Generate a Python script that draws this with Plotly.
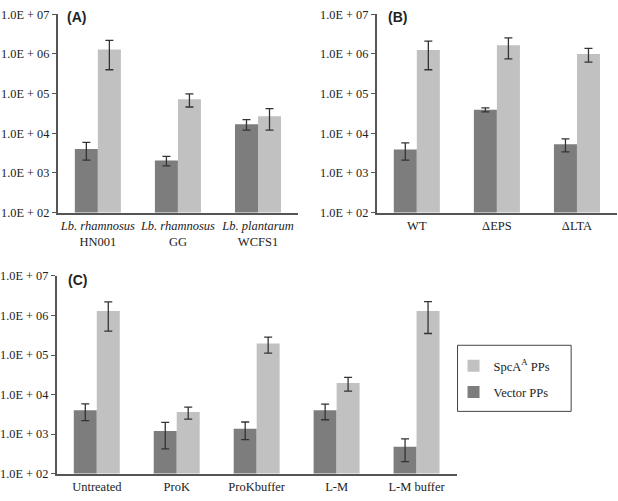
import plotly.graph_objects as go

# ---- data ----
cats_a = ["<i>Lb. rhamnosus</i><br>HN001", "<i>Lb. rhamnosus</i><br>GG", "<i>Lb. plantarum</i><br>WCFS1"]
vector_a = [4000, 2050, 17000]
vector_a_err = [1900, 550, 5000]
spca_a = [1300000, 72000, 27000]
spca_a_err = [900000, 26000, 15000]

cats_b = ["WT", "ΔEPS", "ΔLTA"]
vector_b = [3900, 39000, 5300]
vector_b_err = [1800, 4500, 1900]
spca_b = [1250000, 1650000, 1000000]
spca_b_err = [850000, 900000, 380000]

cats_c = ["Untreated", "ProK", "ProKbuffer", "L-M", "L-M buffer"]
vector_c = [4000, 1200, 1370, 4000, 480]
vector_c_err = [1800, 780, 650, 1700, 280]
spca_c = [1300000, 3600, 197000, 19700, 1300000]
spca_c_err = [900000, 1200, 85000, 7500, 950000]

tick_vals = [1e2, 1e3, 1e4, 1e5, 1e6, 1e7]
tick_text = ["1.0E + 02", "1.0E + 03", "1.0E + 04", "1.0E + 05", "1.0E + 06", "1.0E + 07"]

DARK = "#7d7d7d"
LIGHT = "#c1c1c1"
AXIS = "#555555"
ERR = "#333333"
SERIF = "Liberation Serif"

fig = go.Figure()

panels = [
    ("x", "y", cats_a, vector_a, vector_a_err, spca_a, spca_a_err),
    ("x2", "y2", cats_b, vector_b, vector_b_err, spca_b, spca_b_err),
    ("x3", "y3", cats_c, vector_c, vector_c_err, spca_c, spca_c_err),
]

for i, (xa, ya, cats, vec, vec_e, sp, sp_e) in enumerate(panels):
    show = (i == 2)
    fig.add_trace(go.Bar(
        x=cats, y=vec, xaxis=xa, yaxis=ya, name="Vector PPs",
        marker=dict(color=DARK, line=dict(width=0)),
        error_y=dict(type="data", array=vec_e, color=ERR, thickness=1.3, width=4),
        showlegend=show, legendgroup="vec", legendrank=2,
    ))
    fig.add_trace(go.Bar(
        x=cats, y=sp, xaxis=xa, yaxis=ya, name="SpcA<sup>A</sup> PPs",
        marker=dict(color=LIGHT, line=dict(width=0)),
        error_y=dict(type="data", array=sp_e, color=ERR, thickness=1.3, width=4),
        showlegend=show, legendgroup="spc", legendrank=1,
    ))

yaxis_common = dict(
    type="log", range=[2, 7], tickvals=tick_vals, ticktext=tick_text,
    showgrid=False, zeroline=False, showline=True, linecolor=AXIS, linewidth=2,
    ticks="outside", ticklen=4, tickcolor=AXIS, tickwidth=1,
    tickfont=dict(family=SERIF, size=12.3, color="#222222"),
)
xaxis_common = dict(
    showgrid=False, zeroline=False, showline=True, linecolor=AXIS, linewidth=2,
    ticks="", tickfont=dict(family=SERIF, size=12.5, color="#222222"),
)

fig.update_layout(
    width=618, height=501,
    margin=dict(l=0, r=0, t=0, b=0),
    paper_bgcolor="white", plot_bgcolor="white",
    barmode="group", bargap=0.425, bargroupgap=0,
    xaxis=dict(domain=[56/618, 297/618], anchor="y", **xaxis_common),
    yaxis=dict(domain=[1-211.5/501, 1-7.5/501], anchor="x", **yaxis_common),
    xaxis2=dict(domain=[376/618, 617/618], anchor="y2", **xaxis_common),
    yaxis2=dict(domain=[1-211.5/501, 1-7.5/501], anchor="x2", **yaxis_common),
    xaxis3=dict(domain=[55/618, 456/618], anchor="y3", **xaxis_common),
    yaxis3=dict(domain=[1-480/501, 1-276.7/501], anchor="x3", **yaxis_common),
    legend=dict(
        x=453/618, y=1-354/501, xanchor="left", yanchor="top",
        borderwidth=0, bgcolor="rgba(0,0,0,0)",
        font=dict(family=SERIF, size=12.5, color="#222222"),
        tracegroupgap=7, traceorder="grouped",
    ),
    showlegend=True,
    shapes=[dict(type="rect", xref="paper", yref="paper",
                 x0=457/618, x1=571/618, y0=1-416/501, y1=1-348/501,
                 line=dict(color="#444444", width=1), fillcolor="rgba(0,0,0,0)",
                 layer="below")],
)

for txt, xp, yp in [("(A)", 63, 10), ("(B)", 385, 10), ("(C)", 64, 281)]:
    fig.add_annotation(
        text="<b>%s</b>" % txt, x=xp/618, y=1-yp/501, xref="paper", yref="paper",
        xanchor="left", yanchor="middle", showarrow=False,
        font=dict(family="Liberation Sans", size=14, color="#222222"),
    )

fig.write_html("out.html", config={"displayModeBar": False},
               post_script="document.body.style.margin='0px';")
